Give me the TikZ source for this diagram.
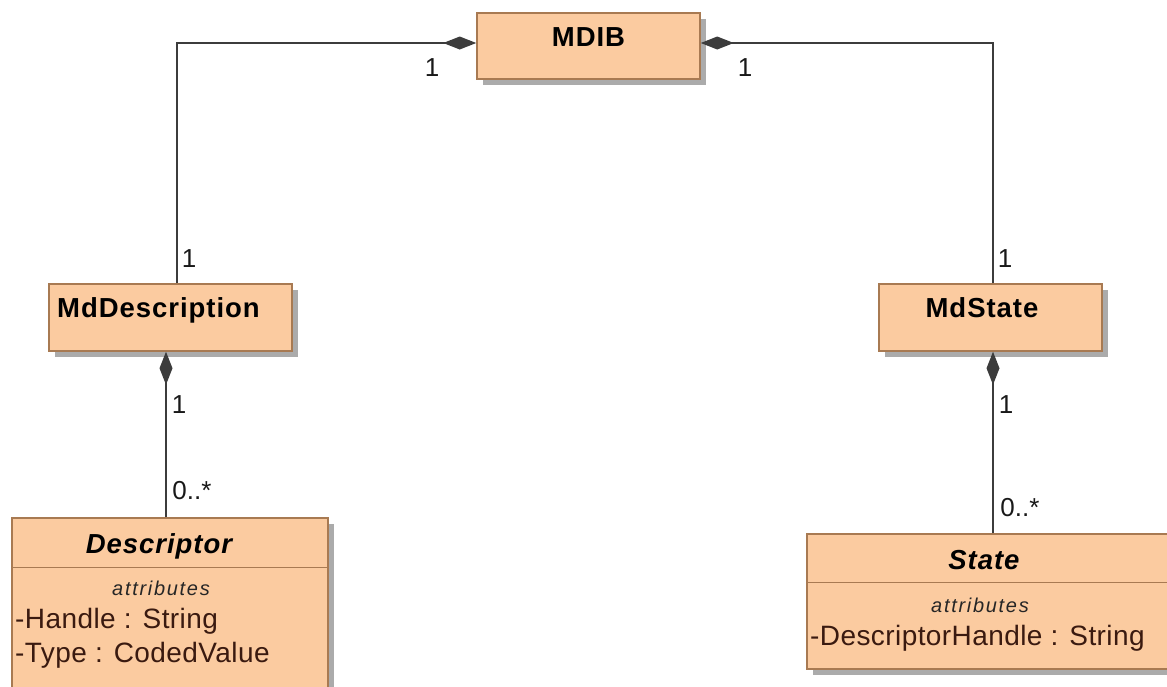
\documentclass[tikz,border=0pt]{standalone}
\usepackage{fontspec}
\setmainfont{Liberation Sans}
\usetikzlibrary{arrows.meta,shadows}
\definecolor{clsfill}{HTML}{FBCBA0}
\definecolor{clsdraw}{HTML}{A87A52}
\definecolor{lncol}{HTML}{3C3C3C}
\definecolor{attrcol}{HTML}{3A1A10}
\definecolor{shcol}{HTML}{ABABAB}
\begin{document}
\begin{tikzpicture}[x=1pt,y=-1pt,
  cls/.style={draw=clsdraw, line width=1.5pt, fill=clsfill, inner sep=0pt,
    drop shadow={shadow xshift=6pt, shadow yshift=-6pt, fill=shcol, opacity=1}},
  hdr/.style={font=\fontsize{27.5}{32}\selectfont\bfseries\addfontfeature{LetterSpace=3.5}, inner sep=0pt, anchor=base},
  ihdr/.style={font=\fontsize{27.5}{32}\selectfont\bfseries\itshape\addfontfeature{LetterSpace=3.5}, inner sep=0pt, anchor=base},
  attrs/.style={font=\fontsize{20}{24}\selectfont\itshape\addfontfeature{LetterSpace=8.5}, inner sep=0pt, text=black!85, anchor=base},
  attrtxt/.style={font=\fontsize{28}{33}\selectfont\addfontfeature{LetterSpace=1.5}, inner sep=0pt, text=attrcol, anchor=base west},
  mult/.style={font=\fontsize{26}{30}\selectfont, inner sep=0pt, text=black!90},
  comp/.style={draw=lncol, line width=1.8pt, -{Diamond[length=33pt,width=13pt,fill=lncol]}},
  sep/.style={draw=clsdraw, line width=1.5pt}
]
\useasboundingbox (0,0) rectangle (1167,686);
% boxes
\node[cls, minimum width=223pt, minimum height=66pt] (mdib) at (588.5,46) {};
\node[hdr] (mdibt) at (588.5,46) {MDIB};

\node[cls, minimum width=243pt, minimum height=67pt] (mddesc) at (170.5,317.5) {};
\node[hdr, anchor=base west] (mddesct) at (57,317) {MdDescription};

\node[cls, minimum width=223pt, minimum height=67pt] (mdstate) at (990.5,317.5) {};
\node[hdr] (mdstatet) at (982,317) {MdState};

\node[cls, minimum width=316pt, minimum height=182pt] (desc) at (170,609) {};
\draw[sep] ([yshift=-50pt]desc.north west) -- ([yshift=-50pt]desc.north east);
\node[ihdr] (desct) at (159,553) {Descriptor};
\node[attrs] (desca) at (161,595) {attributes};
\node[attrtxt] (desch) at (15,628) {-Handle : String};
\node[attrtxt] (descy) at (15,662) {-Type : CodedValue};

\node[cls, minimum width=373pt, minimum height=135pt] (state) at (993.5,601.5) {};
\draw[sep] ([yshift=-49pt]state.north west) -- ([yshift=-49pt]state.north east);
\node[ihdr] (statet) at (984,569) {State};
\node[attrs] (statea) at (980,612) {attributes};
\node[attrtxt] (stateh) at (810,645) {-DescriptorHandle : String};

% connectors
\draw[comp] ([xshift=6.5pt]mddesc.north) |- ([yshift=3pt]mdib.west);
\draw[comp] ([xshift=2.5pt]mdstate.north) |- ([yshift=3pt]mdib.east);
\draw[comp] ([xshift=-4pt]desc.north) -- ([xshift=-4pt]desc.north |- mddesc.south);
\draw[comp] ([xshift=-0.5pt]state.north) -- ([xshift=-0.5pt]state.north |- mdstate.south);

% multiplicities
\node[mult] (m1) at (432,68) {1};
\node[mult] (m2) at (745,68) {1};
\node[mult] (m3) at (189,259) {1};
\node[mult] (m4) at (1005,259) {1};
\node[mult] (m5) at (179,405) {1};
\node[mult] (m6) at (1006,405) {1};
\node[mult] (m7) at (192,491) {0..*};
\node[mult] (m8) at (1020,508) {0..*};
\end{tikzpicture}
\end{document}
